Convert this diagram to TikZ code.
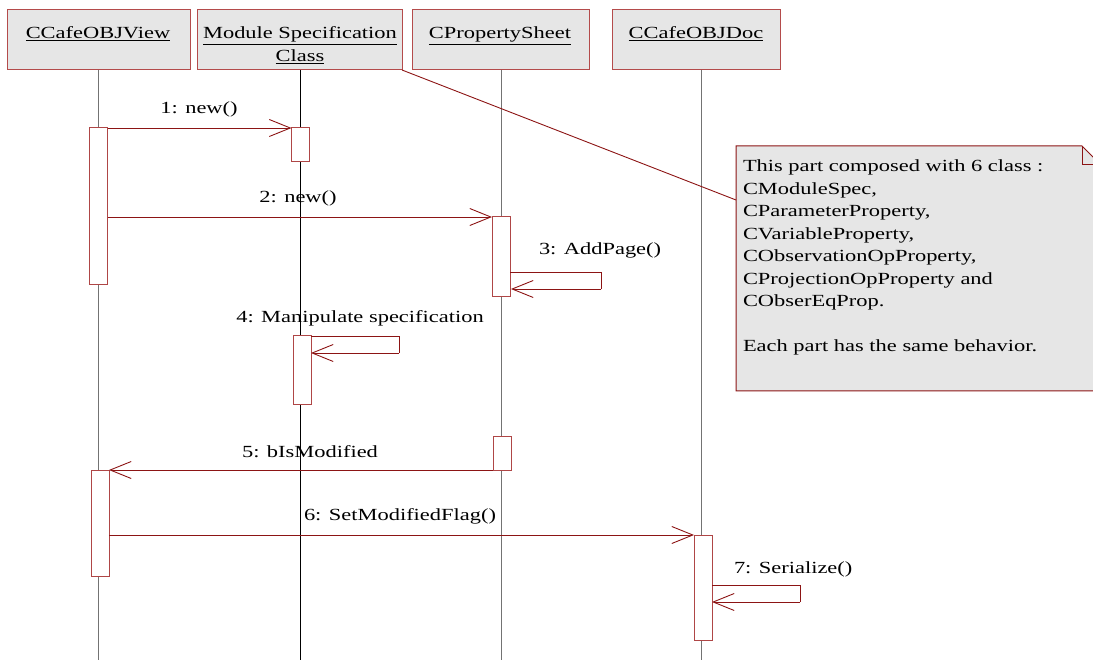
\documentclass[tikz,border=0pt]{standalone}
\usepackage{fontspec}
\setmainfont{Liberation Serif}[FakeStretch=1.32]
\usetikzlibrary{arrows.meta}
\definecolor{msgred}{RGB}{140,20,20}
\definecolor{hdrline}{RGB}{180,75,75}
\definecolor{hdrfill}{RGB}{230,230,230}
\definecolor{barline}{RGB}{175,70,70}
\definecolor{lifegray}{RGB}{115,115,115}
\begin{document}
\begin{tikzpicture}[x=1pt,y=-1pt,
  every node/.style={font=\fontsize{17}{22.5}\selectfont, inner sep=0pt, outer sep=0pt},
  header/.style={draw=hdrline, fill=hdrfill, line width=1pt, minimum height=60pt, anchor=north},
  bar/.style={draw=barline, fill=white, line width=1pt, minimum width=18pt, anchor=north},
  life/.style={draw=lifegray, line width=1pt},
  msg/.style={draw=msgred, line width=0.9pt, -{Straight Barb[length=21pt,width=17pt]}},
  loopline/.style={draw=msgred, line width=0.9pt},
  lbl/.style={text=black, anchor=base},
  notebox/.style={draw=msgred, fill=hdrfill, line width=1pt}
]
\useasboundingbox (0,0) rectangle (1093,660);

% object headers
\node[header, minimum width=183pt] (h1) at (98.5,10) {};
\node[header, minimum width=205pt] (h2) at (299.5,10) {};
\node[header, minimum width=177pt] (h3) at (500.5,10) {};
\node[header, minimum width=168pt] (h4) at (696,10) {};
\node[lbl] (t1) at (98,39) {\underline{CCafeOBJView}};
\node[lbl] (t2a) at (300,39) {\underline{Module Specification}};
\node[lbl] (t2b) at (300,62) {\underline{Class}};
\node[lbl] (t3) at (500,39) {\underline{CPropertySheet}};
\node[lbl] (t4) at (696,39) {\underline{CCafeOBJDoc}};

% lifelines
\coordinate (e1) at (98,660);
\coordinate (e2) at (300,660);
\coordinate (e3) at (501,660);
\coordinate (e4) at (701,660);
\draw[life] (h1.south -| e1) -- (e1);
\draw[line width=1pt, black] (h2.south -| e2) -- (e2);
\draw[life] (h3.south -| e3) -- (e3);
\draw[life] (h4.south -| e4) -- (e4);

% activation bars
\node[bar, minimum height=157pt] (vb1) at (98.5,128) {};
\node[bar, minimum height=34pt]  (mb1) at (300.5,128) {};
\node[bar, minimum height=80pt]  (pb1) at (501,217) {};
\node[bar, minimum height=69pt]  (mb2) at (302,336) {};
\node[bar, minimum height=34pt]  (pb2) at (502,436) {};
\node[bar, minimum height=106pt] (vb2) at (100,470) {};
\node[bar, minimum height=105pt] (db1) at (703,535) {};

% messages
\draw[msg] (vb1.north east) -- (mb1.north west);
\node[lbl] (m1) at (199,114) {1: new()};

\draw[msg] (vb1.east |- pb1.north) -- (pb1.north west);
\node[lbl] (m2) at (298,203) {2: new()};

\coordinate (s3a) at (601,272);
\coordinate (s3b) at (601,289);
\draw[loopline] (s3a -| pb1.east) -- (s3a) -- (s3b);
\draw[msg] (s3b) -- ([xshift=1pt]s3b -| pb1.east);
\node[lbl, anchor=base west] (m3) at (539,255) {3: AddPage()};

\coordinate (s4a) at (399,336);
\coordinate (s4b) at (399,353);
\draw[loopline] (mb2.north east) -- (s4a) -- (s4b);
\draw[msg] (s4b) -- (s4b -| mb2.east);
\node[lbl] (m4) at (360,323) {4: Manipulate specification};

\draw[msg] (pb2.south west) -- (vb2.north east);
\node[lbl] (m5) at (310,457) {5: bIsModified};

\draw[msg] (vb2.east |- db1.north) -- (db1.north west);
\node[lbl] (m6) at (400,520) {6: SetModifiedFlag()};

\coordinate (s7a) at (800,585);
\coordinate (s7b) at (800,602);
\draw[loopline] (s7a -| db1.east) -- (s7a) -- (s7b);
\draw[msg] (s7b) -- (s7b -| db1.east);
\node[lbl, anchor=base west] (m7) at (734,573) {7: Serialize()};

% note with folded corner
\node[minimum width=365pt, minimum height=245pt, anchor=north west] (note) at (736,146) {};
\begin{scope}
\clip (0,0) rectangle (1093,660);
\draw[notebox] (note.north west) -- ([xshift=-19pt]note.north east)
  -- ([yshift=-19pt]note.north east) -- (note.south east) -- (note.south west) -- cycle;
\draw[draw=msgred, line width=1pt] ([xshift=-19pt]note.north east)
  -- ([xshift=-19pt,yshift=-19pt]note.north east) -- ([yshift=-19pt]note.north east);
\end{scope}
\node[anchor=base west, align=left] (nt) at (743,352) {This part composed with 6 class :\\
CModuleSpec,\\
CParameterProperty,\\
CVariableProperty,\\
CObservationOpProperty,\\
CProjectionOpProperty and\\
CObserEqProp.\\[22.5pt]
Each part has the same behavior.};
\coordinate (na) at (736,200);
\draw[draw=msgred, line width=0.9pt] (h2.south east) -- (na);
\end{tikzpicture}
\end{document}
